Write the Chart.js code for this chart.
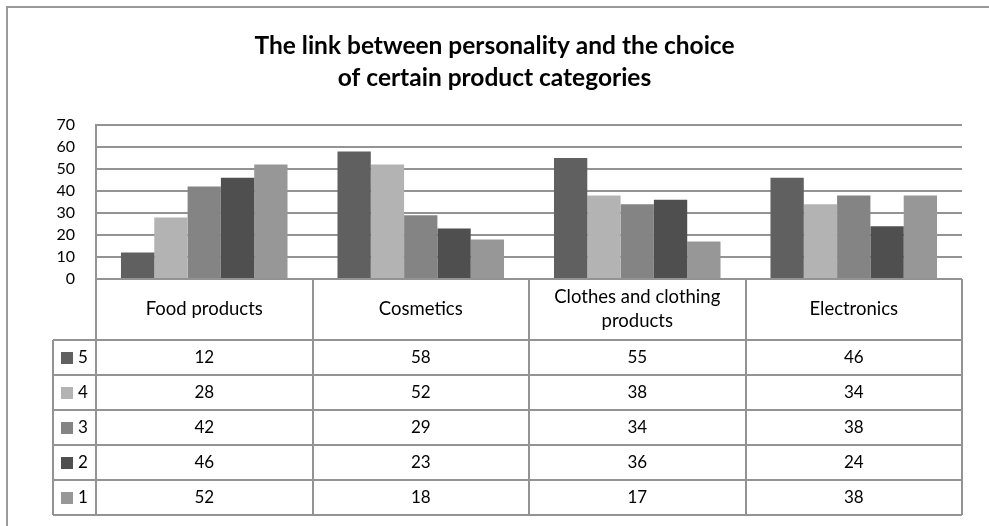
<!DOCTYPE html>
<html>
<head>
<meta charset="utf-8">
<script src="https://cdn.jsdelivr.net/npm/chart.js@4/dist/chart.umd.min.js"></script>
<style>
  html, body { margin: 0; padding: 0; background: #fff; }
  #wrap { width: 989px; height: 526px; }
</style>
</head>
<body>
<div id="wrap"><canvas id="chart" width="989" height="526"></canvas></div>
<script>
// Excel-style clustered columns with a data table underneath.

const categories = ['Food products', 'Cosmetics', ['Clothes and clothing', 'products'], 'Electronics'];
const seriesNames = ['5', '4', '3', '2', '1'];
const values5 = [12, 58, 55, 46];
const values4 = [28, 52, 38, 34];
const values3 = [42, 29, 34, 38];
const values2 = [46, 23, 36, 24];
const values1 = [52, 18, 17, 38];
const seriesValues = [values5, values4, values3, values2, values1];
const seriesColors = ['#606060', '#b3b3b3', '#848484', '#4f4f4f', '#979797'];
const yMin = 0, yMax = 70, yStep = 10;

const FONT = 'Lato, "Liberation Sans", sans-serif';
const LINE = '#939393';

// outer frame + the data table drawn under the plot, aligned to the x scale
const tablePlugin = {
    id: 'dataTable',
    beforeDraw(chart) {
        const ctx = chart.ctx;
        ctx.save();
        ctx.fillStyle = '#fff';
        ctx.fillRect(0, 0, chart.width, chart.height);
        ctx.strokeStyle = '#9a9a9a';
        ctx.lineWidth = 2;
        ctx.beginPath();
        ctx.moveTo(7, chart.height);
        ctx.lineTo(7, 7);
        ctx.lineTo(chart.width, 7);
        ctx.stroke();
        ctx.restore();
    },
    afterDraw(chart) {
        const ctx = chart.ctx;
        const xs = chart.scales.x, ys = chart.scales.y;
        const n = categories.length;
        const colW = (xs.right - xs.left) / n;
        const top = ys.bottom;
        const headH = 61, rowH = 35;
        const legendLeft = 53;
        const bottom = top + headH + rowH * seriesNames.length;

        ctx.save();
        ctx.strokeStyle = LINE;
        ctx.lineWidth = 2;
        ctx.beginPath();
        for (let i = 0; i <= n; i++) {
            const x = Math.round(xs.left + i * colW);
            ctx.moveTo(x, top);
            ctx.lineTo(x, bottom);
        }
        ctx.moveTo(legendLeft, top + headH);
        ctx.lineTo(legendLeft, bottom);
        for (let r = 0; r <= seriesNames.length; r++) {
            const y = top + headH + r * rowH;
            ctx.moveTo(legendLeft, y);
            ctx.lineTo(xs.right, y);
        }
        ctx.stroke();

        ctx.fillStyle = '#000';
        ctx.textAlign = 'center';
        ctx.textBaseline = 'middle';
        ctx.font = '18.5px ' + FONT;
        categories.forEach((c, i) => {
            const cx = xs.getPixelForValue(i);
            const lines = Array.isArray(c) ? c : [c];
            const lh = 24;
            const y0 = top + headH / 2 - (lines.length - 1) * lh / 2;
            lines.forEach((t, k) => ctx.fillText(t, cx, y0 + k * lh));
        });

        ctx.font = '17px ' + FONT;
        seriesNames.forEach((s, r) => {
            const cy = top + headH + r * rowH + rowH / 2;
            ctx.fillStyle = seriesColors[r];
            ctx.fillRect(61, Math.round(cy - 6), 12, 12);
            ctx.fillStyle = '#000';
            ctx.textAlign = 'left';
            ctx.fillText(s, 78, cy);
            ctx.textAlign = 'center';
            seriesValues[r].forEach((v, i) => {
                ctx.fillText(String(v), xs.getPixelForValue(i), cy);
            });
        });
        ctx.restore();
    }
};

const datasets = seriesNames.map((name, i) => ({
    label: name,
    data: seriesValues[i],
    backgroundColor: seriesColors[i],
    borderWidth: 0,
    categoryPercentage: 5 / 6.5,
    barPercentage: 1
}));

new Chart(document.getElementById('chart'), {
    type: 'bar',
    data: { labels: categories, datasets: datasets },
    plugins: [tablePlugin],
    options: {
        responsive: false,
        animation: false,
        layout: { padding: 0 },
        plugins: {
            legend: { display: false },
            tooltip: { enabled: false },
            title: {
                display: true,
                text: ['The link between personality and the choice', 'of certain product categories'],
                color: '#000',
                font: { family: FONT, size: 24.5, weight: 'bold', lineHeight: 32 / 24.5 },
                padding: { top: 30, bottom: 31 }
            }
        },
        scales: {
            x: {
                ticks: { display: false },
                grid: { display: false },
                border: { display: false },
                afterFit(scale) { scale.height = 247; }
            },
            y: {
                min: yMin,
                max: yMax,
                ticks: { stepSize: yStep, autoSkip: false, color: '#000', padding: 21, font: { family: FONT, size: 16, lineHeight: 1 } },
                grid: { color: LINE, lineWidth: 2, drawTicks: false },
                border: { display: true, color: LINE, width: 2 },
                afterFit(scale) { scale.width = 96; }
            },
            // empty right-hand strip so the plot stops short of the frame edge
            yRight: {
                position: 'right',
                min: yMin,
                max: yMax,
                ticks: { display: false },
                grid: { display: false },
                border: { display: false },
                afterFit(scale) { scale.width = 27; }
            }
        }
    }
});
</script>
</body>
</html>
